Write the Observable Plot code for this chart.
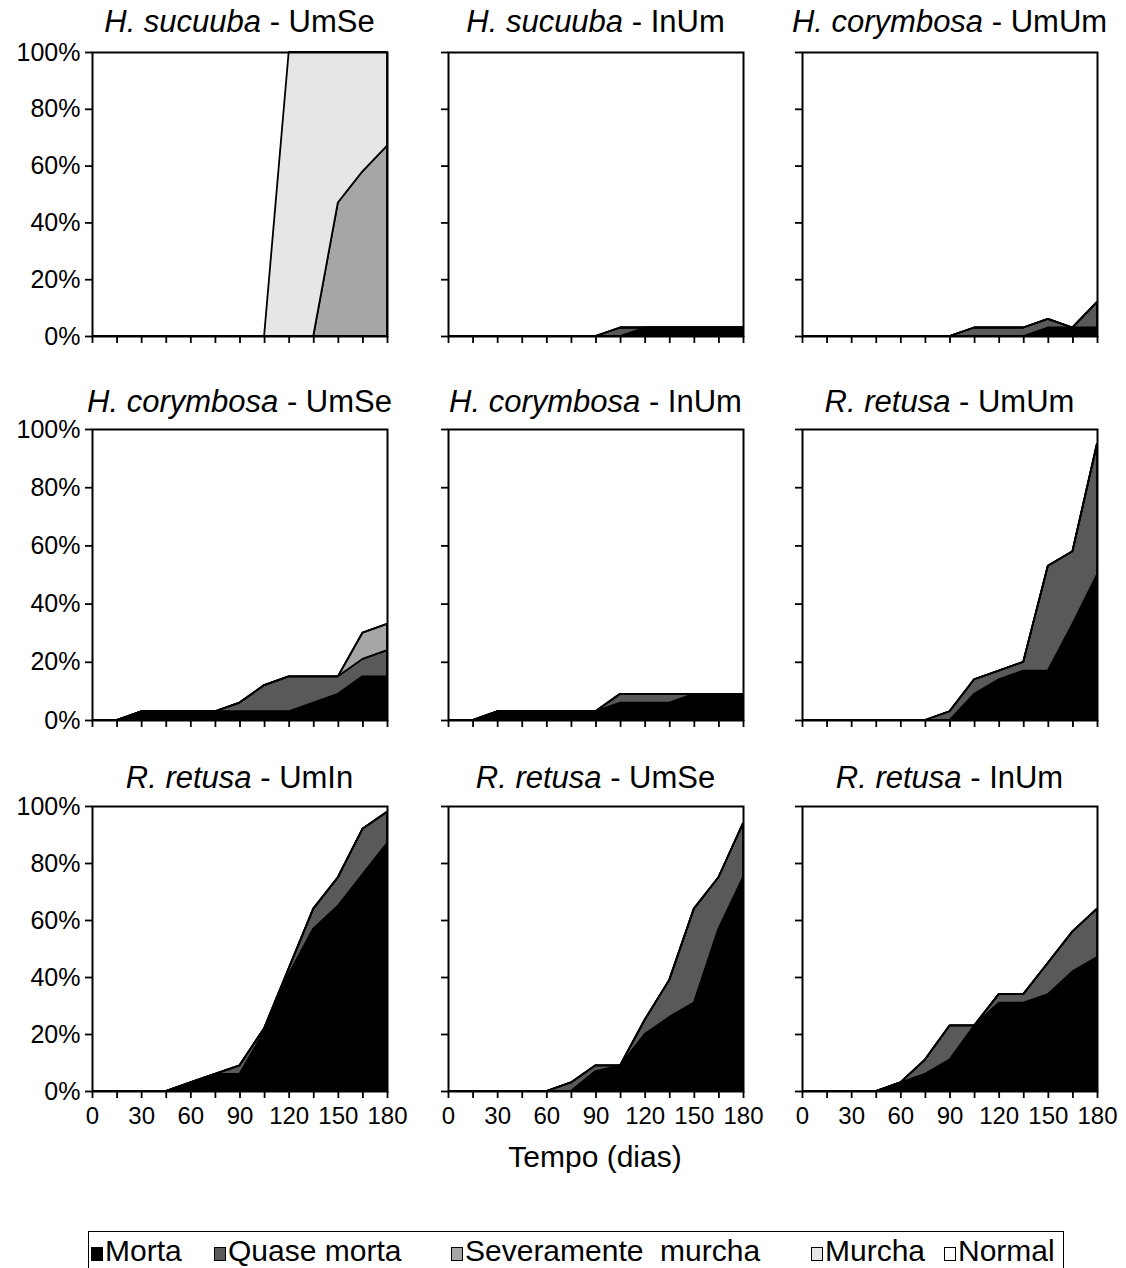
<!DOCTYPE html>
<html><head><meta charset="utf-8">
<script src="https://cdn.jsdelivr.net/npm/d3@7"></script>
<script src="https://cdn.jsdelivr.net/npm/@observablehq/plot@0.6"></script>
<style>
html,body{margin:0;padding:0;background:#fff;overflow:hidden;}
#root{position:relative;width:1126px;height:1268px;font-family:"Liberation Sans",Arial,sans-serif;color:#000;}
.title{position:absolute;font-size:31px;line-height:30px;white-space:nowrap;transform:translateX(-50%);}
.panel{position:absolute;}
.xtitle{position:absolute;font-size:30px;line-height:30px;white-space:nowrap;transform:translateX(-50%);}
.legend{position:absolute;left:88px;top:1231px;width:976px;height:50px;border:1.5px solid #000;box-sizing:border-box;}
.li{position:absolute;top:3px;font-size:30px;line-height:32px;white-space:pre;}
.sw{display:inline-block;width:12px;height:14px;border:1px solid #000;box-sizing:border-box;margin-right:2px;}
</style></head><body><div id="root"></div>
<script>
// ---- data ----
const days = [0, 15, 30, 45, 60, 75, 90, 105, 120, 135, 150, 165, 180];
const categories = ["Morta", "Quase morta", "Severamente  murcha", "Murcha", "Normal"];
const colors = ["#000000", "#595959", "#a6a6a6", "#e6e6e6", "#ffffff"];
const speciesNames = ["H. sucuuba", "H. sucuuba", "H. corymbosa", "H. corymbosa", "H. corymbosa", "R. retusa", "R. retusa", "R. retusa", "R. retusa"];
const treatments = ["UmSe", "InUm", "UmUm", "UmSe", "InUm", "UmUm", "UmIn", "UmSe", "InUm"];
const xTickLabels = [0, 30, 60, 90, 120, 150, 180];
const yTicks = [0, 20, 40, 60, 80, 100];

// percentage of plants per state, one row per panel, one value per day
const morta = [
  [0,0,0,0,0,0,0,0,0,0,0,0,0],
  [0,0,0,0,0,0,0,0,3,3,3,3,3],
  [0,0,0,0,0,0,0,0,0,0,3,3,3],
  [0,0,3,3,3,3,3,3,3,6,9,15,15],
  [0,0,3,3,3,3,3,6,6,6,9,9,9],
  [0,0,0,0,0,0,0,9,14,17,17,33,50],
  [0,0,0,0,3,6,6,21,41,57,65,76,87],
  [0,0,0,0,0,0,7,9,20,26,31,57,75],
  [0,0,0,0,3,6,11,23,31,31,34,42,47]
];
const quaseMorta = [
  [0,0,0,0,0,0,0,0,0,0,0,0,0],
  [0,0,0,0,0,0,0,3,0,0,0,0,0],
  [0,0,0,0,0,0,0,3,3,3,3,0,9],
  [0,0,0,0,0,0,3,9,12,9,6,6,9],
  [0,0,0,0,0,0,0,3,3,3,0,0,0],
  [0,0,0,0,0,0,3,5,3,3,36,25,45],
  [0,0,0,0,0,0,3,1,2,7,10,16,11],
  [0,0,0,0,0,3,2,0,5,13,33,18,19],
  [0,0,0,0,0,5,12,0,3,3,11,14,17]
];
const severamenteMurcha = [
  [0,0,0,0,0,0,0,0,0,0,47,58,67],
  [0,0,0,0,0,0,0,0,0,0,0,0,0],
  [0,0,0,0,0,0,0,0,0,0,0,0,0],
  [0,0,0,0,0,0,0,0,0,0,0,9,9],
  [0,0,0,0,0,0,0,0,0,0,0,0,0],
  [0,0,0,0,0,0,0,0,0,0,0,0,0],
  [0,0,0,0,0,0,0,0,0,0,0,0,0],
  [0,0,0,0,0,0,0,0,0,0,0,0,0],
  [0,0,0,0,0,0,0,0,0,0,0,0,0]
];
const murcha = [
  [0,0,0,0,0,0,0,0,100,100,53,42,33],
  [0,0,0,0,0,0,0,0,0,0,0,0,0],
  [0,0,0,0,0,0,0,0,0,0,0,0,0],
  [0,0,0,0,0,0,0,0,0,0,0,0,0],
  [0,0,0,0,0,0,0,0,0,0,0,0,0],
  [0,0,0,0,0,0,0,0,0,0,0,0,0],
  [0,0,0,0,0,0,0,0,0,0,0,0,0],
  [0,0,0,0,0,0,0,0,0,0,0,0,0],
  [0,0,0,0,0,0,0,0,0,0,0,0,0]
];

// ---- layout ----
const colLeft = [92, 448, 802], colRight = [387, 743, 1097];
const rowTop = [52, 429, 806], rowBottom = [336, 720, 1091];
const titleY = [22, 402, 778];
const ML = 92, MR = 25, MT = 15;

const root = document.getElementById("root");
const seriesList = [morta, quaseMorta, severamenteMurcha, murcha];

for (let p = 0; p < 9; p++) {
  const r = Math.floor(p / 3), c = p % 3;
  const rows = [];
  seriesList.forEach((s, k) => {
    days.forEach((d, i) => rows.push({day: d, cat: categories[k], value: s[p][i]}));
  });
  const w = colRight[c] - colLeft[c], h = rowBottom[r] - rowTop[r];
  const MB = r === 2 ? 45 : 15;
  const plot = Plot.plot({
    width: ML + w + MR,
    height: MT + h + MB,
    marginLeft: ML, marginRight: MR, marginTop: MT, marginBottom: MB,
    style: {fontSize: "25px", fontFamily: "'Liberation Sans', Arial, sans-serif", color: "#000", background: "transparent", overflow: "visible", maxWidth: "none"},
    x: {domain: [0, 180]},
    y: {domain: [0, 100]},
    color: {domain: categories, range: colors},
    marks: [
      Plot.areaY(rows, {x: "day", y: "value", z: "cat", fill: "cat", stroke: "#000", strokeWidth: 1.8, strokeLinejoin: "miter"}),
      Plot.frame({stroke: "#000", strokeWidth: 2}),
      Plot.axisY({ticks: yTicks, tickSize: 7, tickPadding: 5, strokeWidth: 1.8, label: null,
        tickFormat: c === 0 ? (d => d + "%") : (() => "")}),
      Plot.axisX({ticks: days, tickSize: 7, tickPadding: 8, strokeWidth: 1.8, label: null, fontSize: 24,
        tickFormat: r === 2 ? (d => xTickLabels.includes(d) ? String(d) : "") : (() => "")})
    ]
  });
  plot.classList.add("panel");
  plot.style.left = (colLeft[c] - ML) + "px";
  plot.style.top = (rowTop[r] - MT) + "px";
  root.appendChild(plot);

  const t = document.createElement("div");
  t.className = "title";
  t.style.left = ((colLeft[c] + colRight[c]) / 2) + "px";
  t.style.top = (titleY[r] - 15) + "px";
  const it = document.createElement("i");
  it.textContent = speciesNames[p];
  t.appendChild(it);
  t.appendChild(document.createTextNode(" - " + treatments[p]));
  root.appendChild(t);
}

const xt = document.createElement("div");
xt.className = "xtitle";
xt.style.left = "595px";
xt.style.top = (1157 - 15) + "px";
xt.textContent = "Tempo (dias)";
root.appendChild(xt);

const legend = document.createElement("div");
legend.className = "legend";
const legendX = [2, 125, 362, 722, 855];
categories.forEach((cat, k) => {
  const item = document.createElement("div");
  item.className = "li";
  item.style.left = legendX[k] + "px";
  const sw = document.createElement("span");
  sw.className = "sw";
  sw.style.background = colors[k];
  item.appendChild(sw);
  item.appendChild(document.createTextNode(cat));
  legend.appendChild(item);
});
root.appendChild(legend);
</script>
</body></html>
